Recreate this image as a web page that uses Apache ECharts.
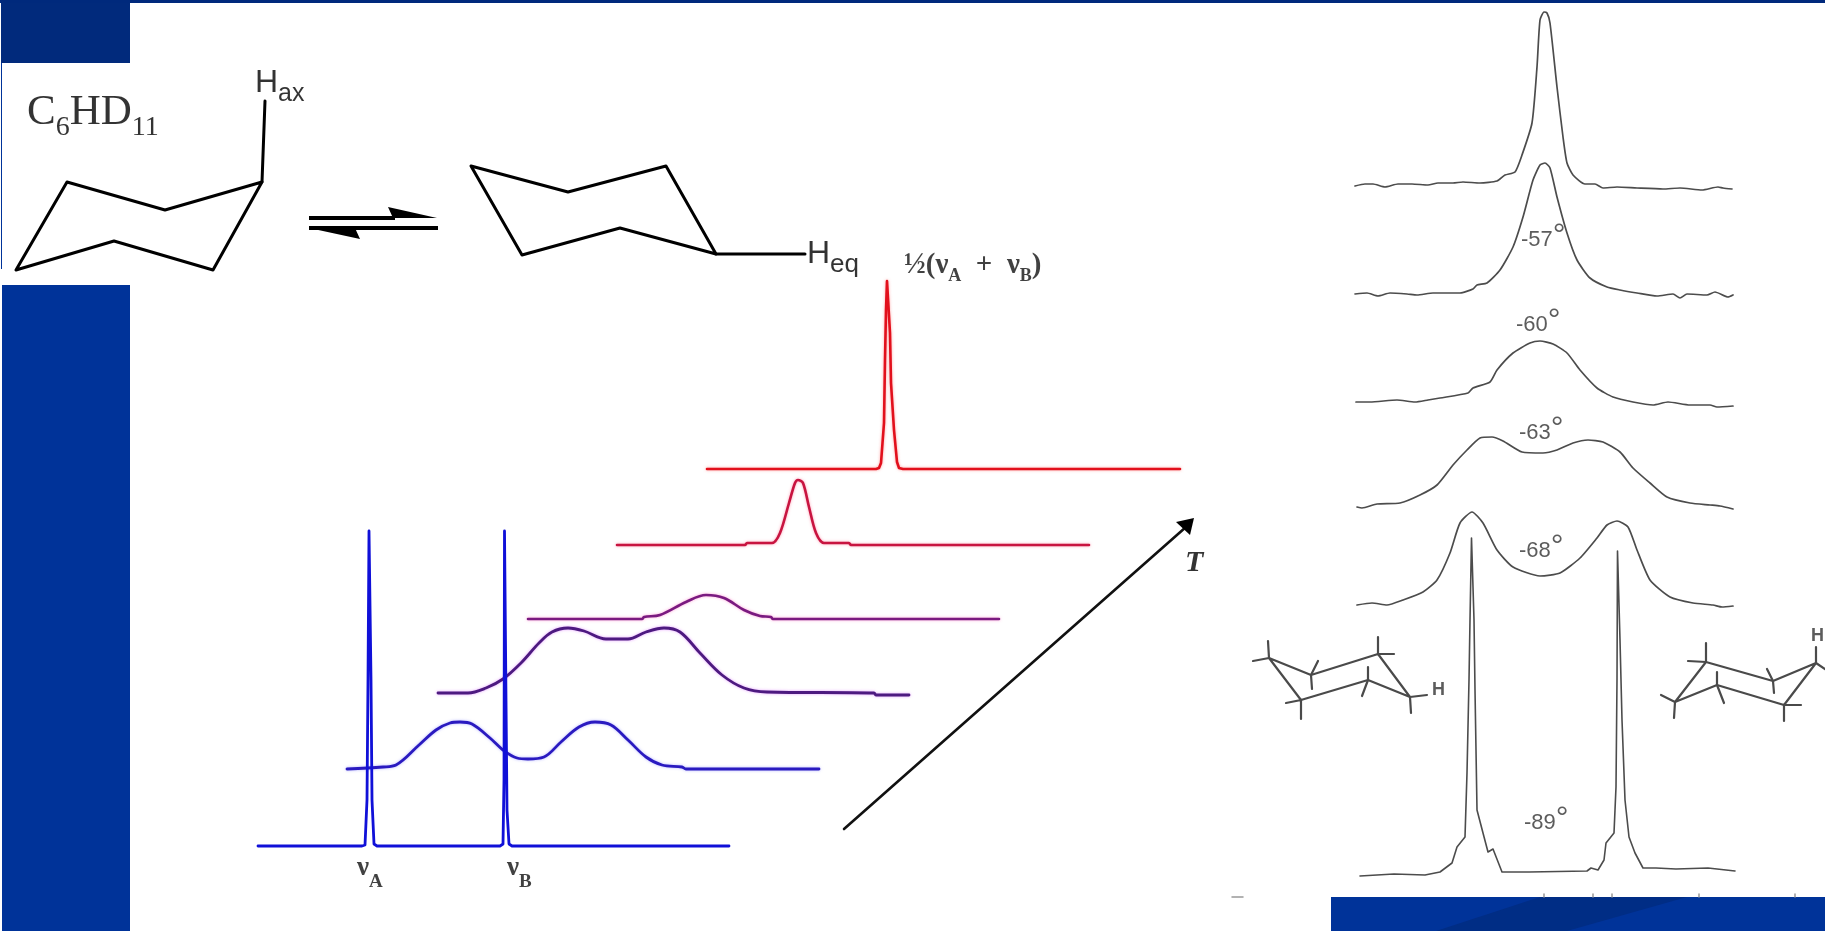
<!DOCTYPE html>
<html><head><meta charset="utf-8"><title>C6HD11 NMR</title>
<style>html,body{margin:0;padding:0;background:#fff;overflow:hidden}#c{width:1825px;height:931px}</style>
<script src="https://cdn.jsdelivr.net/npm/echarts@6/dist/echarts.min.js"></script></head>
<body><div id="c"></div><script>
// ---- simulated spectra (x, y) ----
const simA=[[258,846],[362,846],[365,845],[367,800],[368,680],[369,531],[370,531],[371,680],[372,800],[374,844],[377,846],[500,846],[503,844],[504,780],[504.5,531],[505.5,531],[506,700],[507,810],[509,844],[512,846],[729,846]];
const simB=[[347,769],[383,767],[396,765],[419,745],[436,730],[450,723],[460,722],[472,724],[490,738],[503,750],[517,758],[528,759],[544,757],[561,742],[579,727],[595,722],[611,725],[628,740],[646,757],[662,765],[682,767],[686,769],[819,769]];
const simC=[[438,693],[468,693],[486,688],[503,679],[521,663],[539,643],[552,632],[568,628],[584,631],[606,639],[628,639],[646,632],[664,628],[680,632],[700,653],[722,675],[744,688],[767,692],[874,693],[876,695],[909,695]];
const simD=[[528,619],[642,619],[644,617],[660,615],[686,602],[706,595],[724,598],[744,610],[760,616],[771,617],[773,619],[999,619]];
const simE=[[617,545],[745,545],[747,543],[772,543],[780,533],[789,503],[795,483],[798,480],[803,483],[809,507],[816,533],[824,543],[849,543],[851,545],[1089,545]];
const simF=[[707,469],[876,469],[879,468],[881,463],[884,423],[885,360],[886,310],[887,281],[889,281],[890,333],[891,383],[894,430],[897,462],[899,468],[903,469],[1000,469],[1180,469]];
// ---- experimental spectra ----
const exp1=[[1355,186],[1365,184],[1373,184],[1385,187],[1398,184],[1412,184],[1428,185],[1438,183],[1453,183],[1463,182],[1480,183],[1497,181],[1505,175],[1515,172],[1522,155],[1532,123],[1537,67],[1540,20],[1544,12],[1547,13],[1550,23],[1557,87],[1563,137],[1567,163],[1573,175],[1585,184],[1595,184],[1603,188],[1617,187],[1637,188],[1663,189],[1680,188],[1702,190],[1718,187],[1723,188],[1732,189]];
const exp2=[[1355,294],[1367,293],[1378,296],[1390,293],[1407,294],[1417,295],[1433,293],[1447,293],[1460,293],[1473,289],[1477,285],[1487,283],[1500,270],[1513,247],[1523,217],[1533,180],[1540,165],[1545,163],[1550,168],[1557,197],[1567,233],[1577,260],[1590,278],[1607,287],[1620,290],[1637,293],[1657,296],[1673,294],[1680,298],[1687,294],[1707,295],[1715,292],[1728,297],[1733,295]];
const exp3=[[1356,402],[1370,402],[1397,400],[1415,402],[1428,400],[1440,398],[1468,393],[1473,388],[1490,382],[1497,370],[1513,353],[1530,343],[1540,341],[1553,344],[1567,353],[1580,370],[1597,388],[1613,397],[1633,402],[1653,405],[1668,402],[1690,405],[1710,405],[1717,407],[1733,406]];
const exp4=[[1357,507],[1362,508],[1377,504],[1400,503],[1420,495],[1437,485],[1453,465],[1467,450],[1480,438],[1492,437],[1503,441],[1522,452],[1543,453],[1557,450],[1573,443],[1588,440],[1603,442],[1620,452],[1633,468],[1650,483],[1667,497],[1690,503],[1710,505],[1720,506],[1733,509]];
const exp5=[[1357,605],[1372,603],[1387,605],[1403,600],[1423,592],[1437,580],[1450,553],[1460,523],[1472,512],[1483,523],[1497,550],[1513,567],[1540,576],[1560,573],[1580,558],[1597,538],[1607,525],[1617,521],[1628,527],[1637,550],[1650,580],[1670,597],[1693,603],[1713,605],[1722,607],[1733,606]];
const exp6=[[1360,876],[1394,874],[1425,875],[1440,872],[1452,863],[1457,847],[1465,837],[1467,773],[1469,680],[1470,620],[1471.5,538],[1472.5,538],[1474,620],[1475,690],[1477,810],[1483,833],[1488,852],[1493,849],[1502,872],[1529,872],[1587,871],[1591,868],[1598,870],[1604,860],[1606,843],[1614,833],[1616,787],[1617,680],[1617.5,551],[1618.5,551],[1620,640],[1622,720],[1625,800],[1629,837],[1635,853],[1643,868],[1656,868],[1676,869],[1708,868],[1735,871]];
// ---- molecular drawings (polylines) ----
const ringAx=[[[16,270],[67,182],[165,210],[262,182],[213,270],[114,241],[16,270]],[[262,182],[265,101]]];
const ringEq=[[[471,166],[568,192],[666,166],[716,254],[620,228],[522,255],[471,166]],[[716,254],[805,254]]];
const eqArrows=[[[309,218],[395,218]],[[309,228],[438,228]]];
const tArrow=[[[844,829],[1186,527]]];
const chairLeft=[[[1269,658],[1311,675],[1378,654],[1410,697],[1368,680],[1301,700],[1269,658]],[[1268,641],[1269,658]],[[1253,661],[1269,658]],[[1318,661],[1311,675],[1312,689]],[[1378,637],[1378,654],[1394,654]],[[1427,695],[1410,697],[1411,713]],[[1368,667],[1368,680],[1362,696]],[[1286,703],[1301,700],[1301,719]]];
const chairRight=[[[1706,662],[1773,681],[1816,663],[1784,705],[1717,685],[1675,702],[1706,662]],[[1706,643],[1706,662],[1688,661]],[[1767,669],[1773,681],[1774,693]],[[1816,647],[1816,663],[1825,669]],[[1801,705],[1784,705],[1784,721]],[[1717,672],[1717,685],[1724,703]],[[1661,695],[1675,702],[1674,718]]];
const scaleTicks=[[[1232,897],[1243,897]],[[1544,894],[1544,897]],[[1593,894],[1593,897]],[[1612,894],[1612,897]],[[1699,894],[1699,897]],[[1795,894],[1795,897]]];
// ---- filled shapes ----
const panelShapes=[
 {color:'#00297c',pts:[[0,0],[1825,0],[1825,3],[0,3]]},
 {color:'#012a7c',pts:[[1,3],[130,3],[130,63],[1,63]]},
 {color:'#003399',pts:[[1,63],[2,63],[2,269],[1,269]]},
 {color:'#003399',pts:[[2,285],[130,285],[130,931],[2,931]]},
 {color:'#003399',pts:[[1331,897],[1825,897],[1825,931],[1331,931]]},
 {color:'#002d85',pts:[[1540,897],[1687,897],[1567,931],[1436,931]]}];
const arrowHeads=[{color:'#000',pts:[[388,207],[437,218],[393,218]]},{color:'#000',pts:[[309,228],[355,228],[360,239]]},{color:'#000',pts:[[1194,518],[1176,522],[1190,535]]}];
// ---- text ----
const sans="'Liberation Sans',Arial,sans-serif", serif="'Liberation Serif','Times New Roman',serif";
const textItems=[
 {p:[27,113],t:'{m|C}{s|6}{m|HD}{s|11}',rich:{m:{fontFamily:serif,fontSize:43,color:'#000'},s:{fontFamily:serif,fontSize:28,color:'#000',padding:[30,0,0,0]}}},
 {p:[255,83],t:'{m|H}{s|ax}',rich:{m:{fontFamily:sans,fontSize:32,color:'#000'},s:{fontFamily:sans,fontSize:25,color:'#000',padding:[22,0,0,0]}}},
 {p:[807,254],t:'{m|H}{s|eq}',rich:{m:{fontFamily:sans,fontSize:32,color:'#000'},s:{fontFamily:sans,fontSize:26,color:'#000',padding:[22,0,0,0]}}},
 {p:[904,266],t:'{m|½(ν}{s|A}{m|  +  ν}{s|B}{m|)}',rich:{m:{fontFamily:serif,fontWeight:'bold',fontSize:29,color:'#111'},s:{fontFamily:serif,fontWeight:'bold',fontSize:18,color:'#111',padding:[20,0,0,0]}}},
 {p:[357,868],t:'{m|ν}{s|A}',rich:{m:{fontFamily:serif,fontWeight:'bold',fontSize:27,color:'#111'},s:{fontFamily:serif,fontWeight:'bold',fontSize:19,color:'#111',padding:[28,0,0,0]}}},
 {p:[507,868],t:'{m|ν}{s|B}',rich:{m:{fontFamily:serif,fontWeight:'bold',fontSize:27,color:'#111'},s:{fontFamily:serif,fontWeight:'bold',fontSize:19,color:'#111',padding:[28,0,0,0]}}},
 {p:[1185,563],t:'{m|T}',rich:{m:{fontFamily:serif,fontWeight:'bold',fontStyle:'italic',fontSize:30,color:'#000'}}}
];
const tempItems=[[1521,240,'-57'],[1516,325,'-60'],[1519,433,'-63'],[1519,551,'-68'],[1524,823,'-89']];
const hItems=[[1432,690,'H'],[1811,636,'H']];

const line=(data,color,width,extra)=>Object.assign({type:'line',data,symbol:'none',silent:true,clip:false,animation:false,lineStyle:{color,width,join:'round',cap:'round'},z:3},extra||{});
const series=[];
const poly=(list,z)=>series.push({type:'custom',silent:true,clip:false,animation:false,z,data:list.map(()=>[0,0]),
 renderItem:(p,api)=>({type:'polygon',shape:{points:list[p.dataIndex].pts.map(q=>api.coord(q))},style:{fill:list[p.dataIndex].color}})});
poly(panelShapes,1);
[ [simF,'#e2101c',2.6,'rgba(255,120,120,.7)',0],[simE,'#c81440',2.6,'rgba(255,120,150,.7)',0.3],[simD,'#7a1a80',2.6,'rgba(255,120,200,.7)',0.35],[simC,'#4d1a80',2.8,'rgba(220,120,255,.7)',0.35],[simB,'#2a1ac0',2.8,'rgba(150,150,255,.7)',0.35] ]
 .forEach(s=>series.push(line(s[0],s[1],s[2],{smooth:s[4],lineStyle:{color:s[1],width:s[2],join:'round',cap:'round',shadowColor:s[3],shadowBlur:3}})));
series.push(line(simA,'#1010d8',2.8,{z:4}));
[exp1,exp2,exp3,exp4,exp5].forEach(d=>series.push(line(d,'#4c4c4c',1.7,{smooth:0.2})));
series.push(line(exp6,'#4c4c4c',1.6));
[...ringAx,...ringEq].forEach(d=>series.push(line(d,'#000',3)));
eqArrows.forEach(d=>series.push(line(d,'#000',4,{lineStyle:{color:'#000',width:4,cap:'butt'}})));
tArrow.forEach(d=>series.push(line(d,'#111',2.6)));
[...chairLeft,...chairRight].forEach(d=>series.push(line(d,'#4a4a4a',2.2)));
scaleTicks.forEach(d=>series.push(line(d,'#999',1.5)));
poly(arrowHeads,5);
series.push({type:'scatter',symbolSize:0,silent:true,animation:false,z:6,clip:false,
 data:textItems.map(o=>({value:o.p,label:{show:true,position:'right',distance:0,formatter:o.t,rich:o.rich}}))});
const tRich={n:{fontFamily:sans,fontSize:22,color:'#333'},d:{fontFamily:sans,fontSize:32,color:'#333',padding:[0,0,8,0]}};
series.push({type:'scatter',symbolSize:0,silent:true,animation:false,z:6,clip:false,
 data:tempItems.map(o=>({value:[o[0],o[1]],label:{show:true,position:'right',distance:0,formatter:'{n|'+o[2]+'}{d|°}',rich:tRich}}))});
series.push({type:'scatter',symbolSize:0,silent:true,animation:false,z:6,clip:false,
 data:hItems.map(o=>({value:[o[0],o[1]],label:{show:true,position:'right',distance:0,formatter:o[2],fontFamily:sans,fontWeight:'bold',fontSize:18,color:'#333'}}))});
const chart=echarts.init(document.getElementById('c'),null,{renderer:'canvas'});
chart.setOption({animation:false,backgroundColor:'#fff',
 grid:{left:0,right:0,top:0,bottom:0},
 xAxis:{type:'value',min:0,max:1825,show:false},
 yAxis:{type:'value',min:0,max:931,inverse:true,show:false},
 series});
</script></body></html>
